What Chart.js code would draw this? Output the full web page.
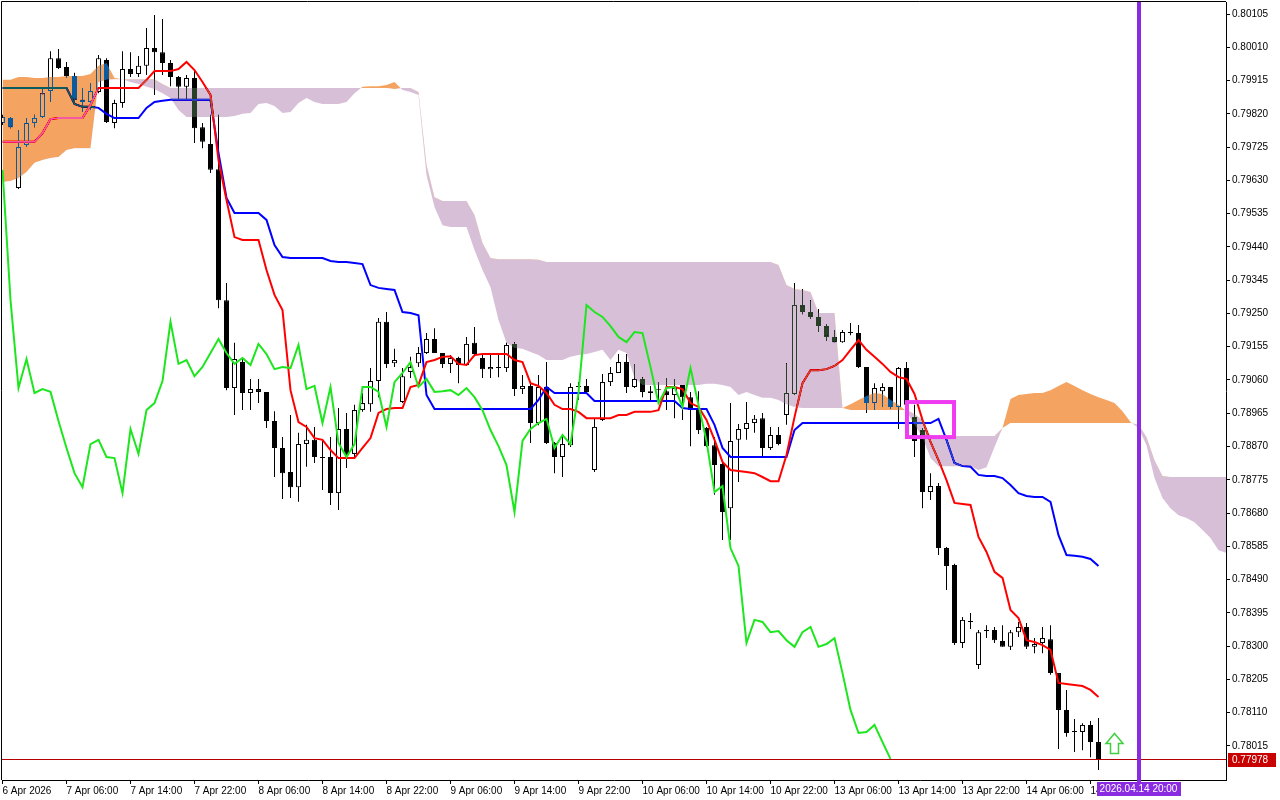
<!DOCTYPE html>
<html>
<head>
<meta charset="utf-8">
<script src="https://cdn.jsdelivr.net/npm/chart.js@4.4.1/dist/chart.umd.min.js"></script>
<style>
  html, body { margin: 0; padding: 0; background: #fff; }
  #wrap { width: 1280px; height: 800px; }
</style>
</head>
<body>
<div id="wrap"><canvas id="chart" width="1280" height="800"></canvas></div>
<script>
// H1 bars, 6 Apr 22:00 -> 14 Apr 15:00 (bar index 0..137)
const opens = [
  0.79794,0.79808,0.79608,0.79731,0.79794,0.79811,0.79885,0.79979,0.79954,0.79928,
  0.79860,0.79854,0.79882,0.79974,0.79794,0.79851,0.79948,0.79934,0.79957,0.80008,
  0.79996,0.79965,0.79925,0.79897,0.79922,0.79782,0.79734,0.79662,0.79288,0.79037,
  0.79111,0.79023,0.79034,0.79026,0.78943,0.78866,0.78797,0.78754,0.78877,0.78889,
  0.78840,0.78840,0.78737,0.78920,0.78849,0.78974,0.78991,0.79057,0.79226,0.79108,
  0.78997,0.79083,0.79108,0.79137,0.79177,0.79137,0.79106,0.79123,0.79103,0.79166,
  0.79123,0.79091,0.79097,0.79094,0.79163,0.79034,0.79043,0.78937,0.79040,0.78880,
  0.78840,0.78874,0.79040,0.79043,0.78803,0.78946,0.79054,0.79080,0.79111,0.79040,
  0.79063,0.79023,0.79031,0.79028,0.79017,0.79046,0.79011,0.78980,0.78923,0.78874,
  0.78820,0.78694,0.78889,0.78920,0.78937,0.78951,0.78866,0.78903,0.78960,0.79020,
  0.79274,0.79254,0.79240,0.79214,0.79183,0.79168,0.79197,0.79194,0.79097,0.78994,
  0.79028,0.79040,0.78983,0.79094,0.78954,0.78917,0.78740,0.78757,0.78580,0.78532,
  0.78309,0.78372,0.78246,0.78343,0.78346,0.78315,0.78298,0.78340,0.78355,0.78298,
  0.78309,0.78320,0.78223,0.78118,0.78055,0.78055,0.78075,0.78026
];
const highs = [
  0.79817,0.79811,0.79774,0.79808,0.79817,0.79894,0.79999,0.80005,0.79968,0.79937,
  0.79894,0.79908,0.79988,0.79979,0.79860,0.79999,0.79996,0.79985,0.80065,0.80102,
  0.80091,0.79974,0.79928,0.79931,0.79948,0.79794,0.79817,0.79817,0.79337,0.79166,
  0.79123,0.79063,0.79063,0.79026,0.78971,0.78897,0.78960,0.78909,0.78932,0.78926,
  0.78889,0.78897,0.78980,0.78966,0.78989,0.79023,0.79094,0.79237,0.79254,0.79149,
  0.79094,0.79126,0.79154,0.79194,0.79208,0.79137,0.79131,0.79126,0.79183,0.79211,
  0.79131,0.79131,0.79131,0.79166,0.79168,0.79074,0.79054,0.79074,0.79111,0.78883,
  0.78903,0.79051,0.79054,0.79063,0.78951,0.79077,0.79097,0.79134,0.79134,0.79106,
  0.79068,0.79043,0.79054,0.79066,0.79063,0.79046,0.79026,0.79028,0.78926,0.78897,
  0.78823,0.78994,0.78934,0.78997,0.78960,0.78966,0.78926,0.78926,0.79108,0.79337,
  0.79320,0.79288,0.79263,0.79220,0.79203,0.79203,0.79223,0.79217,0.79097,0.79051,
  0.79051,0.79040,0.79097,0.79111,0.78989,0.78923,0.78794,0.78766,0.78583,0.78535,
  0.78383,0.78395,0.78346,0.78360,0.78355,0.78360,0.78346,0.78369,0.78366,0.78323,
  0.78355,0.78360,0.78223,0.78175,0.78092,0.78080,0.78086,0.78095
];
const lows = [
  0.79788,0.79779,0.79605,0.79725,0.79782,0.79808,0.79854,0.79948,0.79922,0.79854,
  0.79825,0.79831,0.79879,0.79794,0.79779,0.79837,0.79925,0.79925,0.79931,0.79874,
  0.79931,0.79899,0.79860,0.79860,0.79737,0.79722,0.79651,0.79265,0.79031,0.78960,
  0.78974,0.78974,0.78994,0.78923,0.78783,0.78720,0.78723,0.78712,0.78812,0.78823,
  0.78746,0.78703,0.78689,0.78809,0.78840,0.78969,0.78969,0.79011,0.79094,0.79097,
  0.78994,0.79066,0.79097,0.79134,0.79137,0.79094,0.79080,0.79051,0.79100,0.79128,
  0.79066,0.79066,0.79068,0.79083,0.79014,0.79020,0.78880,0.78931,0.78877,0.78794,
  0.78783,0.78869,0.79003,0.79023,0.78797,0.78943,0.79043,0.79080,0.79023,0.79037,
  0.79011,0.79003,0.79003,0.78974,0.78951,0.78946,0.78871,0.78906,0.78869,0.78732,
  0.78603,0.78603,0.78769,0.78889,0.78909,0.78840,0.78860,0.78874,0.78932,0.79017,
  0.79248,0.79234,0.79197,0.79171,0.79168,0.79166,0.79188,0.79094,0.78966,0.78974,
  0.78983,0.78977,0.78920,0.78983,0.78840,0.78694,0.78717,0.78560,0.78460,0.78303,
  0.78295,0.78349,0.78235,0.78323,0.78309,0.78298,0.78289,0.78326,0.78292,0.78280,
  0.78280,0.78218,0.78006,0.78041,0.77998,0.78003,0.77983,0.77946
];
const closes = [
  0.79811,0.79782,0.79725,0.79794,0.79808,0.79879,0.79979,0.79951,0.79928,0.79860,
  0.79854,0.79885,0.79979,0.79797,0.79851,0.79948,0.79934,0.79957,0.80008,0.79996,
  0.79965,0.79925,0.79897,0.79922,0.79779,0.79740,0.79660,0.79288,0.79037,0.79120,
  0.79023,0.79034,0.79026,0.78943,0.78866,0.78794,0.78754,0.78877,0.78889,0.78840,
  0.78837,0.78737,0.78920,0.78849,0.78974,0.78994,0.79057,0.79226,0.79106,0.79117,
  0.79071,0.79097,0.79137,0.79177,0.79137,0.79106,0.79123,0.79103,0.79163,0.79134,
  0.79091,0.79097,0.79094,0.79160,0.79034,0.79043,0.78937,0.79040,0.78880,0.78840,
  0.78877,0.79040,0.79040,0.79026,0.78926,0.79054,0.79080,0.79111,0.79040,0.79063,
  0.79026,0.79028,0.79031,0.79017,0.79037,0.79011,0.78974,0.78917,0.78871,0.78817,
  0.78683,0.78886,0.78920,0.78937,0.78949,0.78866,0.78903,0.78877,0.79023,0.79274,
  0.79254,0.79240,0.79214,0.79183,0.79168,0.79197,0.79194,0.79097,0.78994,0.79037,
  0.79040,0.78983,0.79094,0.78989,0.78886,0.78740,0.78757,0.78580,0.78529,0.78309,
  0.78375,0.78369,0.78340,0.78343,0.78317,0.78298,0.78340,0.78355,0.78298,0.78306,
  0.78323,0.78223,0.78118,0.78052,0.78055,0.78075,0.78026,0.77978
];

// Ichimoku lines
const tenkan = [
  0.79740,0.79740,0.79740,0.79740,0.79740,0.79765,0.79805,0.79808,0.79808,0.79808,
  0.79808,0.79845,0.79894,0.79894,0.79894,0.79894,0.79894,0.79894,0.79917,0.79942,
  0.79942,0.79942,0.79948,0.79968,0.79945,0.79911,0.79874,0.79688,0.79574,0.79468,
  0.79460,0.79460,0.79460,0.79374,0.79303,0.79260,0.79031,0.78940,0.78926,0.78894,
  0.78889,0.78860,0.78837,0.78837,0.78837,0.78866,0.78894,0.78966,0.78977,0.78980,
  0.78980,0.79040,0.79046,0.79111,0.79117,0.79126,0.79128,0.79106,0.79103,0.79131,
  0.79134,0.79134,0.79134,0.79134,0.79117,0.79111,0.79051,0.79043,0.79023,0.78989,
  0.78977,0.78977,0.78969,0.78951,0.78951,0.78951,0.78951,0.78960,0.78960,0.78969,
  0.78969,0.78969,0.78974,0.79040,0.79040,0.79034,0.78994,0.78983,0.78946,0.78889,
  0.78826,0.78803,0.78800,0.78797,0.78794,0.78783,0.78771,0.78771,0.78846,0.78954,
  0.79051,0.79088,0.79088,0.79091,0.79100,0.79117,0.79146,0.79174,0.79146,0.79126,
  0.79106,0.79083,0.79068,0.79063,0.79020,0.78946,0.78883,0.78831,0.78774,0.78709,
  0.78706,0.78703,0.78612,0.78569,0.78512,0.78495,0.78403,0.78380,0.78317,0.78312,
  0.78303,0.78289,0.78195,0.78192,0.78189,0.78186,0.78175,0.78155
];
const kijun = [
  0.79894,0.79894,0.79894,0.79894,0.79894,0.79894,0.79894,0.79894,0.79894,0.79848,
  0.79840,0.79840,0.79837,0.79820,0.79808,0.79808,0.79808,0.79808,0.79837,0.79854,
  0.79857,0.79860,0.79860,0.79860,0.79860,0.79860,0.79860,0.79708,0.79580,0.79537,
  0.79537,0.79537,0.79537,0.79517,0.79445,0.79411,0.79408,0.79408,0.79408,0.79408,
  0.79408,0.79400,0.79397,0.79397,0.79394,0.79391,0.79331,0.79323,0.79320,0.79317,
  0.79254,0.79251,0.79245,0.79017,0.78977,0.78977,0.78977,0.78977,0.78977,0.78977,
  0.78977,0.78977,0.78977,0.78977,0.78977,0.78977,0.78977,0.79003,0.79040,0.79023,
  0.79023,0.79023,0.79023,0.79023,0.79000,0.79000,0.79000,0.79000,0.79000,0.79000,
  0.79000,0.79000,0.79000,0.79000,0.79000,0.78980,0.78977,0.78977,0.78977,0.78932,
  0.78866,0.78840,0.78840,0.78840,0.78840,0.78840,0.78840,0.78840,0.78840,0.78917,
  0.78937,0.78937,0.78937,0.78937,0.78937,0.78937,0.78937,0.78937,0.78937,0.78937,
  0.78937,0.78937,0.78937,0.78937,0.78937,0.78937,0.78937,0.78949,0.78889,0.78823,
  0.78814,0.78812,0.78789,0.78786,0.78786,0.78780,0.78760,0.78737,0.78729,0.78726,
  0.78726,0.78712,0.78617,0.78560,0.78558,0.78555,0.78549,0.78529
];
// Senkou spans run 26 bars past the last candle (index 0..153)
const spanA = [
  0.79917,0.79917,0.79925,0.79925,0.79922,0.79922,0.79925,0.79925,0.79928,0.79928,
  0.79928,0.79934,0.79957,0.79965,0.79922,0.79919,0.79911,0.79905,0.79897,0.79891,
  0.79879,0.79865,0.79831,0.79811,0.79811,0.79811,0.79811,0.79811,0.79811,0.79814,
  0.79820,0.79822,0.79848,0.79851,0.79842,0.79822,0.79825,0.79851,0.79865,0.79854,
  0.79848,0.79848,0.79848,0.79854,0.79879,0.79897,0.79899,0.79899,0.79902,0.79911,
  0.79888,0.79882,0.79874,0.79645,0.79554,0.79502,0.79497,0.79497,0.79497,0.79431,
  0.79374,0.79325,0.79231,0.79166,0.79151,0.79149,0.79140,0.79131,0.79117,0.79117,
  0.79117,0.79126,0.79131,0.79134,0.79140,0.79146,0.79117,0.79146,0.79137,0.79066,
  0.79046,0.79046,0.79046,0.79046,0.79046,0.79046,0.79046,0.79046,0.79049,0.79049,
  0.79046,0.79040,0.79017,0.79026,0.79017,0.79009,0.79009,0.79003,0.78991,0.78983,
  0.78980,0.78980,0.78980,0.78980,0.78980,0.78980,0.78991,0.79003,0.79014,0.79023,
  0.79020,0.79003,0.78989,0.78971,0.78932,0.78897,0.78837,0.78814,0.78814,0.78814,
  0.78814,0.78814,0.78803,0.78811,0.78869,0.78923,0.79006,0.79017,0.79020,0.79023,
  0.79023,0.79031,0.79043,0.79054,0.79043,0.79031,0.79020,0.79011,0.79003,0.78994,
  0.78971,0.78940,0.78923,0.78874,0.78780,0.78723,0.78694,0.78674,0.78666,0.78654,
  0.78632,0.78609,0.78574,0.78566
];
const spanB = [
  0.79625,0.79628,0.79637,0.79654,0.79680,0.79688,0.79694,0.79697,0.79717,0.79722,
  0.79722,0.79722,0.79911,0.79917,0.79919,0.79919,0.79919,0.79919,0.79919,0.79919,
  0.79905,0.79894,0.79894,0.79894,0.79894,0.79894,0.79894,0.79894,0.79894,0.79894,
  0.79894,0.79894,0.79894,0.79894,0.79894,0.79894,0.79894,0.79894,0.79894,0.79894,
  0.79894,0.79894,0.79894,0.79894,0.79894,0.79894,0.79894,0.79894,0.79894,0.79891,
  0.79894,0.79894,0.79882,0.79674,0.79582,0.79571,0.79571,0.79571,0.79571,0.79531,
  0.79451,0.79408,0.79405,0.79405,0.79405,0.79405,0.79405,0.79403,0.79397,0.79397,
  0.79397,0.79397,0.79397,0.79397,0.79397,0.79397,0.79397,0.79397,0.79397,0.79397,
  0.79397,0.79397,0.79397,0.79397,0.79397,0.79397,0.79397,0.79397,0.79397,0.79397,
  0.79397,0.79397,0.79397,0.79397,0.79397,0.79397,0.79397,0.79388,0.79331,0.79320,
  0.79317,0.79311,0.79251,0.79251,0.79251,0.78980,0.78974,0.78974,0.78974,0.78974,
  0.78974,0.78974,0.78974,0.78974,0.78963,0.78946,0.78900,0.78900,0.78900,0.78900,
  0.78900,0.78900,0.78900,0.78900,0.78900,0.78923,0.78937,0.78937,0.78937,0.78937,
  0.78937,0.78937,0.78937,0.78937,0.78937,0.78937,0.78937,0.78937,0.78937,0.78937,
  0.78937,0.78937,0.78932,0.78897,0.78831,0.78786,0.78783,0.78783,0.78783,0.78783,
  0.78783,0.78783,0.78783,0.78783
];

const timeTickBars = [0, 8, 16, 24, 32, 40, 48, 56, 64, 72, 80, 88, 96, 104, 112, 120, 128, 136];
const timeLabels = ['6 Apr 2026', '7 Apr 06:00', '7 Apr 14:00', '7 Apr 22:00', '8 Apr 06:00',
  '8 Apr 14:00', '8 Apr 22:00', '9 Apr 06:00', '9 Apr 14:00', '9 Apr 22:00', '10 Apr 06:00',
  '10 Apr 14:00', '10 Apr 22:00', '13 Apr 06:00', '13 Apr 14:00', '13 Apr 22:00',
  '14 Apr 06:00', '14 Apr 14:00'];
const priceTicks = [0.80105, 0.80010, 0.79915, 0.79820, 0.79725, 0.79630, 0.79535, 0.79440,
  0.79345, 0.79250, 0.79155, 0.79060, 0.78965, 0.78870, 0.78775, 0.78680, 0.78585, 0.78490,
  0.78395, 0.78300, 0.78205, 0.78110, 0.78015];

const lastPrice = 0.77978;
const markerBar = 142;            // 2026.04.14 20:00
const markerLabel = '2026.04.14 20:00';
const zoneBox = { from: 113.06, to: 118.94, top: 0.78997, bottom: 0.78897 };
const buyArrow = { bar: 139, price: 0.78052 };

// chikou = close plotted 26 bars back
const chikou = closes.slice(26);

const bars = closes.map((c, i) => i);

Chart.defaults.font.family = "'Liberation Sans', Arial, sans-serif";
Chart.defaults.font.size = 10;
Chart.defaults.color = '#000';

const SPAN_B = 5, SPAN_A = 6;

const mtLook = {
  id: 'mtLook',
  beforeDraw(chart) {
    const ctx = chart.ctx;
    ctx.save();
    ctx.fillStyle = '#fff';
    ctx.fillRect(0, 0, chart.width, chart.height);
    ctx.restore();
  },
  // cloud is painted with a difference blend, like the terminal does
  afterDatasetDraw(chart, args) {
    if (args.index === SPAN_B) chart.ctx.globalCompositeOperation = 'difference';
    if (args.index === SPAN_A) chart.ctx.globalCompositeOperation = 'source-over';
  },
  afterDatasetsDraw(chart) {
    chart.ctx.globalCompositeOperation = 'source-over';
  },
  afterDraw(chart) {
    const { ctx, chartArea: a } = chart;
    const xs = chart.scales.x, ys = chart.scales.y;
    ctx.save();

    // top and left frame
    ctx.strokeStyle = '#000';
    ctx.lineWidth = 1;
    ctx.beginPath();
    ctx.moveTo(a.left - 0.5, a.bottom);
    ctx.lineTo(a.left - 0.5, a.top - 0.5);
    ctx.lineTo(a.right, a.top - 0.5);
    ctx.stroke();

    ctx.save();
    ctx.beginPath();
    ctx.rect(a.left, a.top, a.right - a.left, a.bottom - a.top);
    ctx.clip();

    // bid line
    const py = Math.round(ys.getPixelForValue(lastPrice)) + 0.5;
    ctx.strokeStyle = '#b40000';
    ctx.beginPath();
    ctx.moveTo(a.left, py);
    ctx.lineTo(a.right, py);
    ctx.stroke();

    // rectangle object
    const rx0 = xs.getPixelForValue(zoneBox.from), rx1 = xs.getPixelForValue(zoneBox.to);
    const ry0 = ys.getPixelForValue(zoneBox.top), ry1 = ys.getPixelForValue(zoneBox.bottom);
    ctx.strokeStyle = '#f03cf0';
    ctx.lineWidth = 4;
    ctx.strokeRect(rx0, ry0, rx1 - rx0, ry1 - ry0);

    // buy arrow
    const ax = xs.getPixelForValue(buyArrow.bar);
    const ay = Math.round(ys.getPixelForValue(buyArrow.price)) + 0.5;
    ctx.beginPath();
    ctx.moveTo(ax, ay);
    ctx.lineTo(ax + 8.5, ay + 10);
    ctx.lineTo(ax + 4, ay + 10);
    ctx.lineTo(ax + 4, ay + 20);
    ctx.lineTo(ax - 4, ay + 20);
    ctx.lineTo(ax - 4, ay + 10);
    ctx.lineTo(ax - 8.5, ay + 10);
    ctx.closePath();
    ctx.fillStyle = '#fff';
    ctx.fill();
    ctx.strokeStyle = '#3fcf3f';
    ctx.lineWidth = 1.5;
    ctx.stroke();
    ctx.restore();

    // vertical line
    const vx = xs.getPixelForValue(markerBar);
    ctx.fillStyle = '#8a2be2';
    ctx.fillRect(Math.round(vx) - 2, a.top, 4, a.bottom - a.top + 3);

    // time label
    ctx.font = "10px 'Liberation Sans', Arial, sans-serif";
    const tw = ctx.measureText(markerLabel).width + 6;
    ctx.fillRect(Math.round(vx - tw / 2), a.bottom + 2, Math.round(tw), 14);
    ctx.fillStyle = '#fff';
    ctx.textAlign = 'center';
    ctx.textBaseline = 'middle';
    ctx.fillText(markerLabel, vx, a.bottom + 9.5);

    // price label
    ctx.fillStyle = '#c80000';
    ctx.fillRect(a.right + 2, Math.round(py) - 7, 48, 14);
    ctx.fillStyle = '#fff';
    ctx.textAlign = 'left';
    ctx.fillText(lastPrice.toFixed(5), a.right + 6, Math.round(py) + 0.5);

    ctx.restore();
  }
};

const lineStyle = { type: 'line', pointRadius: 0, tension: 0, fill: false };

new Chart(document.getElementById('chart'), {
  type: 'bar',
  data: {
    datasets: [
      {
        label: 'wicks',
        data: bars.map(i => ({ x: i, y: [lows[i], highs[i]] })),
        backgroundColor: '#000',
        borderWidth: 0,
        maxBarThickness: 1,
        inflateAmount: 0,
        grouped: false,
        order: 6
      },
      {
        label: 'bodies',
        data: bars.map(i => ({ x: i, y: [opens[i], closes[i]] })),
        backgroundColor: bars.map(i => closes[i] > opens[i] ? '#fff' : '#000'),
        borderColor: '#000',
        borderWidth: 1,
        borderSkipped: false,
        minBarLength: 1,
        maxBarThickness: 5,
        inflateAmount: 0,
        grouped: false,
        order: 5
      },
      { ...lineStyle, label: 'Tenkan-sen', data: tenkan.map((v, i) => ({ x: i, y: v })),
        borderColor: '#ff0000', borderWidth: 2, order: 3 },
      { ...lineStyle, label: 'Kijun-sen', data: kijun.map((v, i) => ({ x: i, y: v })),
        borderColor: '#0000ff', borderWidth: 2, order: 4 },
      { ...lineStyle, label: 'Chikou Span', data: chikou.map((v, i) => ({ x: i, y: v })),
        borderColor: '#1ee61e', borderWidth: 2, order: -1 },
      { ...lineStyle, label: 'Senkou Span B', data: spanB.map((v, i) => ({ x: i, y: v })),
        borderColor: 'rgba(0,0,0,0)', borderWidth: 0, order: 1 },
      { ...lineStyle, label: 'Senkou Span A', data: spanA.map((v, i) => ({ x: i, y: v })),
        borderColor: 'rgba(0,0,0,0)', borderWidth: 0, order: 0,
        // difference colours: white -> sandybrown / thistle
        fill: { target: SPAN_B, above: 'rgb(11,91,159)', below: 'rgb(39,64,39)' } }
    ]
  },
  options: {
    responsive: false,
    animation: false,
    devicePixelRatio: 1,
    events: [],
    layout: { padding: { left: 2, top: 2, right: 0, bottom: 0 } },
    plugins: {
      legend: { display: false },
      tooltip: { enabled: false },
      filler: { drawTime: 'beforeDatasetDraw' }
    },
    scales: {
      x: {
        type: 'linear',
        min: -0.0625,
        max: 152.9375,
        bounds: 'data',
        offset: false,
        grid: { display: true, drawOnChartArea: false, drawTicks: true, tickLength: 4, color: '#000', offset: false },
        border: { display: true, color: '#000' },
        ticks: {
          autoSkip: false, maxRotation: 0, minRotation: 0, align: 'start', padding: 1,
          callback: (v, idx) => timeLabels[idx]
        },
        afterBuildTicks: axis => { axis.ticks = timeTickBars.map(b => ({ value: b })); },
        afterFit: axis => { axis.height = 20; axis.paddingLeft = 0; axis.paddingRight = 0; }
      },
      y: {
        type: 'linear',
        position: 'right',
        min: 0.779178,
        max: 0.801393,
        bounds: 'data',
        grid: { display: true, drawOnChartArea: false, drawTicks: true, tickLength: 4, color: '#000' },
        border: { display: true, color: '#000' },
        ticks: { autoSkip: false, padding: 2, callback: v => v.toFixed(5) },
        afterBuildTicks: axis => { axis.ticks = priceTicks.map(v => ({ value: v })); },
        afterFit: axis => { axis.width = 54; axis.paddingTop = 0; axis.paddingBottom = 0; }
      }
    }
  },
  plugins: [mtLook]
});
</script>
</body>
</html>
